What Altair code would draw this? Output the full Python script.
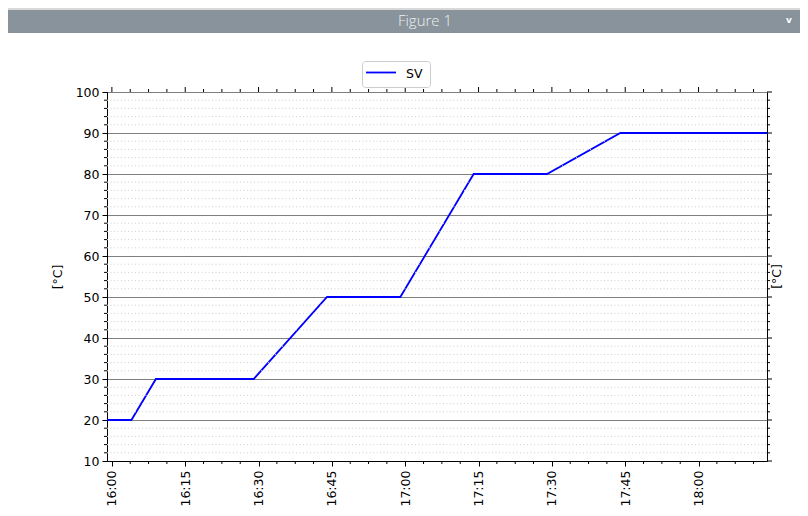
import altair as alt
import pandas as pd

# ---- data ----
times = ["15:59", "16:04", "16:09", "16:29", "16:44", "16:59", "17:14", "17:29", "17:44", "18:14"]
sv = [20, 20, 30, 30, 50, 50, 80, 80, 90, 90]
x_labels = ["16:00", "16:15", "16:30", "16:45", "17:00", "17:15", "17:30", "17:45", "18:00"]
y_major = [10, 20, 30, 40, 50, 60, 70, 80, 90, 100]
series_name = "SV"
y_title = "[°C]"
window_title = "Figure 1"


def to_min(t):
    h, m = t.split(":")
    return (int(h) - 16) * 60 + int(m)


x_major = [to_min(t) for t in x_labels]
x_lo, x_hi = to_min(times[0]), to_min(times[-1])
x_step = x_major[1] - x_major[0]
x_minor = [x_major[0] + k * x_step / 4 for k in range(-4, 40)]
x_minor = [v for v in x_minor if x_lo <= v <= x_hi and v not in x_major]
y_minor = [v for v in range(y_major[0], y_major[-1] + 1, 2) if v not in y_major]

line_df = pd.DataFrame({"m": [to_min(t) for t in times], "v": sv})
ymin_df = pd.DataFrame({"v": y_minor})
ymaj_df = pd.DataFrame({"v": y_major})
xmin_df = pd.DataFrame({"m": x_minor})
xmaj_df = pd.DataFrame({"m": x_major})
dummy = pd.DataFrame({"a": [0]})

W, H = 660, 369
FONT = "DejaVu Sans"
LINE_COLOR = "#0000ff"

xscale = alt.Scale(domain=[x_lo, x_hi], nice=False, zero=False)
yscale = alt.Scale(domain=[y_major[0], y_major[-1]], nice=False, zero=False)

label_expr = "floor(datum.value/60)+16 + ':' + (datum.value%60 < 10 ? '0' : '') + (datum.value%60)"

line = alt.Chart(line_df).mark_line(strokeWidth=1.8, color=LINE_COLOR).encode(
    x=alt.X("m:Q", scale=xscale, title=None, axis=alt.Axis(
        values=x_major, labelExpr=label_expr, labelAngle=270, labelAlign="right",
        labelBaseline="middle", labelPadding=4, tickSize=5, grid=False,
        domainColor="black", tickColor="black", labelFontSize=12.5, labelColor="black")),
    y=alt.Y("v:Q", scale=yscale, title=y_title, axis=alt.Axis(
        values=y_major, tickSize=5, labelPadding=3, grid=True, gridColor="#808080",
        gridWidth=1, titlePadding=11, titleFontSize=12.5,
        titleFontWeight="normal", domainColor="black", tickColor="black",
        labelFontSize=12.5, labelColor="black", titleColor="black")))

# window title bar
bar_top = alt.Chart(dummy).mark_rect(color="#d9d9d9").encode(
    x=alt.value(-99), x2=alt.value(701), y=alt.value(-84), y2=alt.value(-82))
bar = alt.Chart(dummy).mark_rect(color="#88939b").encode(
    x=alt.value(-99), x2=alt.value(701), y=alt.value(-82), y2=alt.value(-59))
bar_text = alt.Chart(dummy).mark_text(
    text=window_title, font="Open Sans", fontWeight=300, fontSize=15, color="#eef1f2",
    align="center", baseline="middle").encode(x=alt.value(318), y=alt.value(-71))
chevron = alt.Chart(dummy).mark_text(
    text="v", font=FONT, fontWeight="bold", fontSize=9, color="#ffffff",
    align="center", baseline="middle").encode(x=alt.value(682), y=alt.value(-72))

# legend box (drawn by hand, like matplotlib's)
leg_box = alt.Chart(dummy).mark_rect(
    fill="white", stroke="#cccccc", strokeWidth=1, cornerRadius=3).encode(
    x=alt.value(255.5), x2=alt.value(323.5), y=alt.value(-30.5), y2=alt.value(-4.5))
leg_line = alt.Chart(dummy).mark_rule(color=LINE_COLOR, strokeWidth=1.8).encode(
    x=alt.value(259), x2=alt.value(289), y=alt.value(-19.5))
leg_text = alt.Chart(dummy).mark_text(
    text=series_name, font=FONT, fontSize=12.5, color="black",
    align="left", baseline="middle").encode(x=alt.value(299), y=alt.value(-18.5))

# minor dotted y grid
ygrid_minor = alt.Chart(ymin_df).mark_rule(color="#cfcfcf", strokeDash=[1, 2.5], strokeWidth=1).encode(
    y=alt.Y("v:Q"), x=alt.value(0), x2=alt.value(W))

# y minor ticks (left, right) and major right ticks
yl_minor = alt.Chart(ymin_df).mark_rule(color="black").encode(
    y=alt.Y("v:Q"), x=alt.value(-3), x2=alt.value(0))
yr_minor = alt.Chart(ymin_df).mark_rule(color="black").encode(
    y=alt.Y("v:Q"), x=alt.value(W), x2=alt.value(W + 3))
yr_major = alt.Chart(ymaj_df).mark_rule(color="black").encode(
    y=alt.Y("v:Q"), x=alt.value(W), x2=alt.value(W + 5))

# x minor ticks (bottom, top) and major top ticks
xb_minor = alt.Chart(xmin_df).mark_rule(color="black").encode(
    x=alt.X("m:Q"), y=alt.value(H), y2=alt.value(H + 3))
xt_minor = alt.Chart(xmin_df).mark_rule(color="black").encode(
    x=alt.X("m:Q"), y=alt.value(-3), y2=alt.value(0))
xt_major = alt.Chart(xmaj_df).mark_rule(color="black").encode(
    x=alt.X("m:Q"), y=alt.value(-5), y2=alt.value(0))

right_title = alt.Chart(dummy).mark_text(
    text=y_title, font=FONT, fontSize=12.5, angle=270, align="center",
    baseline="middle", color="black").encode(x=alt.value(670), y=alt.value(H / 2))

chart = alt.layer(
    line, bar_top, bar, bar_text, chevron,
    ygrid_minor, yl_minor, yr_minor, yr_major, xb_minor, xt_minor, xt_major,
    right_title, leg_box, leg_line, leg_text,
).properties(
    width=W, height=H,
    autosize=alt.AutoSizeParams(type="none"),
    padding={"left": 99, "top": 84, "right": 33, "bottom": 47},
    background="white",
).configure_view(stroke="black", strokeWidth=1).configure_axis(
    labelFont=FONT, titleFont=FONT
)

chart.save("out.html", embed_options={"renderer": "svg", "actions": False})
